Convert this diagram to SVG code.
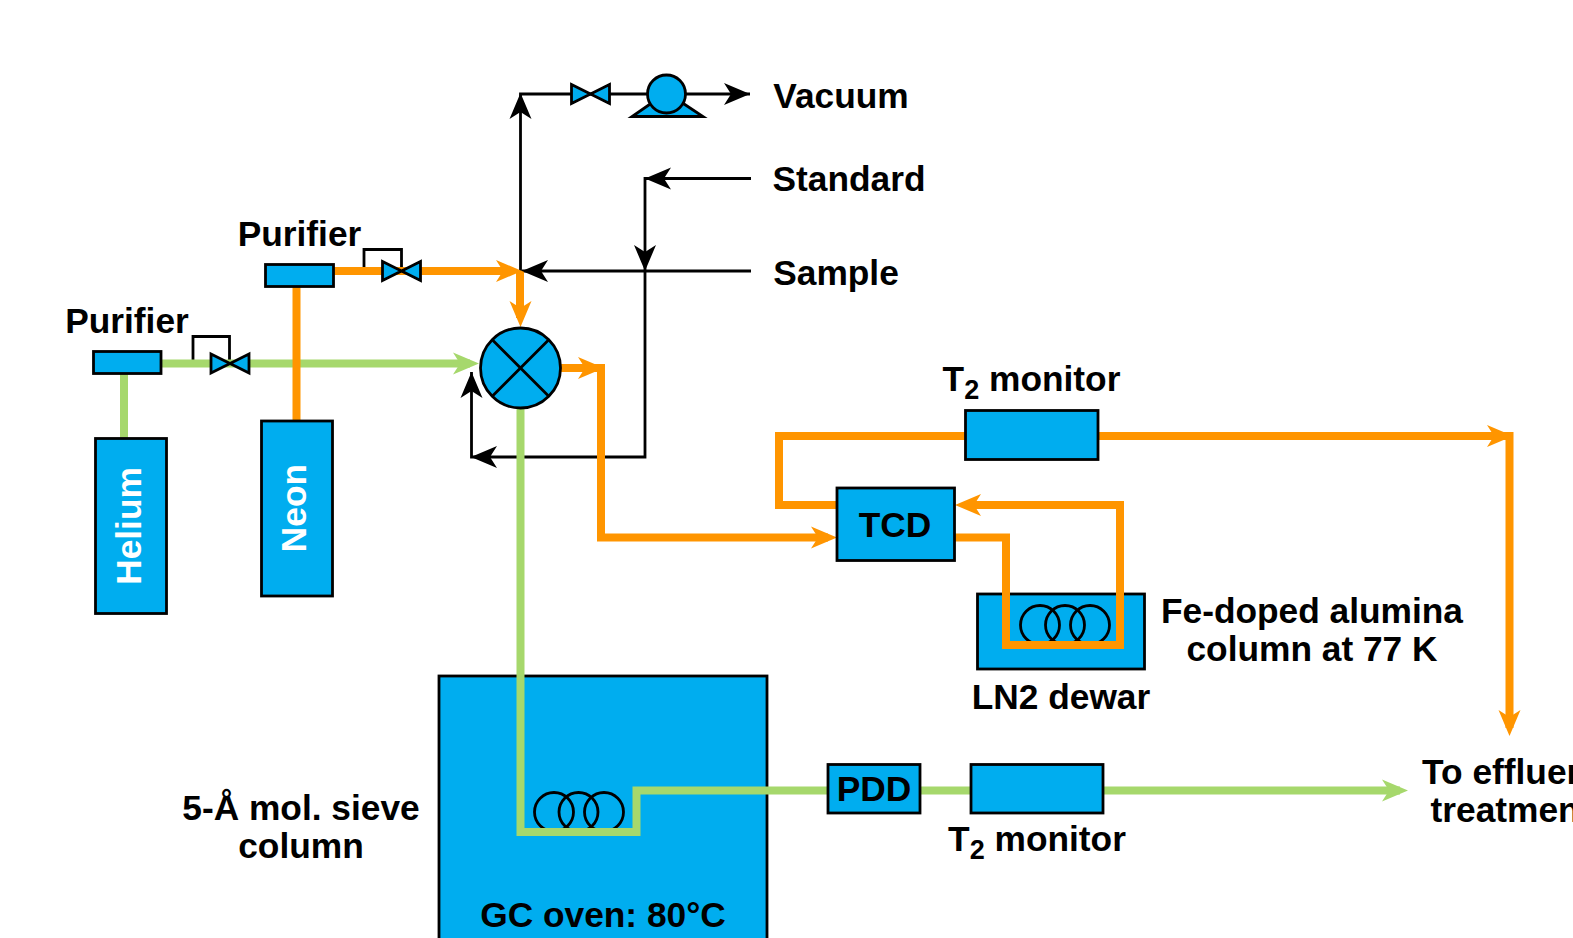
<svg xmlns="http://www.w3.org/2000/svg" width="1573" height="938" viewBox="0 0 1573 938">
<style>
.n{fill:#00adef;stroke:#000;stroke-width:2.8}
.t{font-family:"Liberation Sans",Arial,sans-serif;font-weight:700;font-size:35.3px;fill:#000;text-anchor:middle}
.w{fill:#fff}
.o,.g{fill:none;stroke-width:8;stroke-linejoin:miter}
.o{stroke:#ff9500}.g{stroke:#a6d86c}
.k,.c{fill:none;stroke:#000;stroke-width:2.8}
</style>
<defs>
<path id="ar" d="M0 0L-26 -11L-19 0L-26 11Z"/>
<path id="bow" d="M-19 -9.500L19 9.500V-9.500L-19 9.500Z" class="n"/>
</defs>
<rect width="1573" height="938" fill="#fff"/>
<g id="oven"><rect class="n" x="439" y="676" width="328" height="270"/><text class="t" x="603" y="927">GC oven: 80°C</text></g>
<g id="dewar"><rect class="n" x="977.500" y="594" width="167" height="75"/></g>
<g id="coil-oven"><circle class="c" cx="554" cy="812" r="19.5"/><circle class="c" cx="578.5" cy="812" r="19.5"/><circle class="c" cx="604" cy="812" r="19.5"/></g>
<g id="coil-dewar"><circle class="c" cx="1040" cy="625" r="19.5"/><circle class="c" cx="1065" cy="625" r="19.5"/><circle class="c" cx="1090" cy="625" r="19.5"/></g>
<g id="connectors">
<path class="k" d="M520.500 271V94H750M751 178.500H645V457H471.500V372M751 271H522"/>
<path class="k" d="M193 360V336.500H229.500V363M364 268V249.500H401.500V271"/>
<path class="g" d="M124 374V438M161 363.500H470M520.500 405V832H636.500V790.500H1400"/>
<path class="o" d="M296.500 287V421M333 271H510M520 271V318M560 368H601V537.500H828M965 436H779V505H837M1098 436H1509.500V728M955 537.500H1006V645H1120V505H965"/>
<g fill="#a6d86c"><use href="#ar" transform="translate(479 363.500)"/><use href="#ar" transform="translate(1408 790.500)"/></g>
<g fill="#ff9500"><use href="#ar" transform="translate(522 271)"/><use href="#ar" transform="translate(520.500 327) rotate(90)"/><use href="#ar" transform="translate(604 368)"/><use href="#ar" transform="translate(837 537.500)"/><use href="#ar" transform="translate(955 505) rotate(180)"/><use href="#ar" transform="translate(1513 436)"/><use href="#ar" transform="translate(1509.500 736) rotate(90)"/></g>
<g fill="#000"><use href="#ar" transform="translate(520.500 93) rotate(-90)"/><use href="#ar" transform="translate(750 94)"/><use href="#ar" transform="translate(645 178.500) rotate(180)"/><use href="#ar" transform="translate(645 271) rotate(90)"/><use href="#ar" transform="translate(522 271) rotate(180)"/><use href="#ar" transform="translate(471 457) rotate(180)"/><use href="#ar" transform="translate(471.500 372) rotate(-90)"/></g>
</g>
<g id="helium"><rect class="n" x="95.500" y="438.500" width="71" height="175"/><text class="t w" transform="translate(141 526) rotate(-90)">Helium</text></g>
<g id="neon"><rect class="n" x="261.500" y="421" width="71" height="175"/><text class="t w" transform="translate(306 508) rotate(-90)">Neon</text></g>
<g id="purifier-1"><rect class="n" x="93.500" y="351.500" width="67.500" height="22"/><text class="t" x="127" y="333">Purifier</text></g>
<g id="purifier-2"><rect class="n" x="265.500" y="264.500" width="68" height="22"/><text class="t" x="299.500" y="246">Purifier</text></g>
<g id="valve-1"><use href="#bow" transform="translate(230 363.500)"/></g>
<g id="valve-2"><use href="#bow" transform="translate(401.500 271)"/></g>
<g id="valve-3"><use href="#bow" transform="translate(590.500 94)"/></g>
<g id="pump"><path class="n" d="M632 116.500H703L678 100H656Z"/><circle class="n" cx="666.500" cy="94" r="19"/></g>
<g id="selector"><circle class="n" cx="520.500" cy="368" r="40"/><path class="k" d="M492 339.500L549 396.500M549 339.500L492 396.500"/></g>
<g id="tcd"><rect class="n" x="837" y="488" width="117.500" height="72.500"/><text class="t" x="895" y="536.500">TCD</text></g>
<g id="t2-top"><rect class="n" x="965.500" y="410.500" width="132.500" height="49"/><text class="t" x="1031.500" y="390.500">T<tspan font-size="27" dy="8">2</tspan><tspan dy="-8"> monitor</tspan></text></g>
<g id="pdd"><rect class="n" x="828" y="764.500" width="92" height="48.500"/><text class="t" x="874" y="801">PDD</text></g>
<g id="t2-bot"><rect class="n" x="971" y="764.500" width="132" height="48.500"/><text class="t" x="1037" y="850.500">T<tspan font-size="27" dy="8">2</tspan><tspan dy="-8"> monitor</tspan></text></g>
<g id="labels">
<text class="t" x="841" y="108">Vacuum</text>
<text class="t" x="849" y="191">Standard</text>
<text class="t" x="836" y="285">Sample</text>
<text class="t" x="1312" y="622.500">Fe-doped alumina</text>
<text class="t" x="1312" y="660.500">column at 77 K</text>
<text class="t" x="1061" y="709">LN2 dewar</text>
<text class="t" x="301" y="820">5-Å mol. sieve</text>
<text class="t" x="301" y="858">column</text>
<text class="t" x="1511" y="783.500">To effluent</text>
<text class="t" x="1511" y="822">treatment</text>
</g>
</svg>
